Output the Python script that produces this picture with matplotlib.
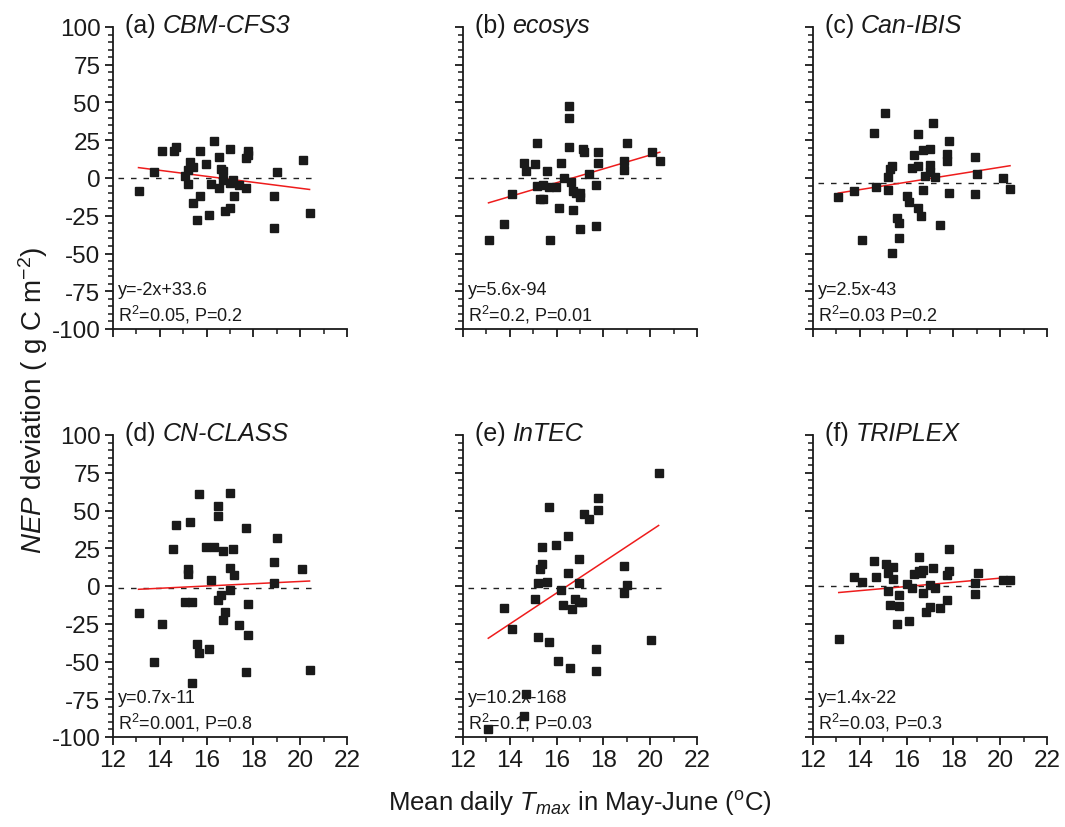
import matplotlib
matplotlib.use('Agg')
import matplotlib.pyplot as plt
from matplotlib.ticker import MultipleLocator

plt.rcParams['font.family'] = ['Liberation Sans', 'DejaVu Sans']
plt.rcParams['mathtext.fontset'] = 'custom'
plt.rcParams['mathtext.rm'] = 'Liberation Sans'
plt.rcParams['mathtext.it'] = 'Liberation Sans:italic'
plt.rcParams['mathtext.bf'] = 'Liberation Sans:bold'
plt.rcParams['axes.unicode_minus'] = False

# ---------------- data ----------------
panel_letters = ['(a)', '(b)', '(c)', '(d)', '(e)', '(f)']
models = ['CBM-CFS3', 'ecosys', 'Can-IBIS', 'CN-CLASS', 'InTEC', 'TRIPLEX']

xa = [13.09, 13.77, 14.09, 14.60, 14.70, 15.09, 15.19, 15.19, 15.31, 15.40, 15.40, 15.59, 15.70, 15.70,
      15.98, 16.11, 16.20, 16.30, 16.51, 16.51, 16.60, 16.71, 16.71, 16.80, 17.01, 17.01, 17.01, 17.11,
      17.19, 17.40, 17.70, 17.70, 17.79, 17.79, 18.89, 18.89, 19.02, 20.11, 20.40]
ya = [-8.7, 3.7, 17.6, 18.0, 20.2, 1.5, 5.6, -3.7, 10.6, 7.6, -16.8, -27.7, 17.6, -12.0,
      9.5, -24.6, -4.2, 24.3, 13.7, -6.8, 5.9, 4.8, -1.1, -21.8, 19.3, -3.3, -19.6, -1.1,
      -11.6, -4.4, 13.5, -6.8, 17.6, 15.0, -12.0, -33.3, 3.7, 11.9, -23.5]

xb = [13.09, 13.74, 14.09, 14.60, 14.68, 15.09, 15.18, 15.18, 15.29, 15.40, 15.40, 15.57, 15.69, 15.70,
      15.99, 16.10, 16.20, 16.30, 16.51, 16.51, 16.51, 16.60, 16.71, 16.71, 16.81, 17.01, 17.01, 17.01,
      17.11, 17.19, 17.40, 17.70, 17.70, 17.79, 17.79, 18.89, 18.89, 19.02, 20.09, 20.41]
yb = [-41.2, -30.4, -10.3, 9.7, 4.9, 9.0, 23.4, -5.3, -14.0, -14.0, -4.9, 4.9, -5.7, -40.8,
      -6.0, -19.7, 10.1, -0.3, 48.0, 39.5, 20.6, -2.9, -8.6, -21.0, -10.1, -10.1, -12.5, -34.0,
      19.3, 17.3, 2.9, -4.9, -31.5, 17.5, 10.1, 11.0, 5.5, 23.2, 17.1, 11.4]

xc = [13.08, 13.77, 14.08, 14.59, 14.68, 15.09, 15.19, 15.19, 15.28, 15.39, 15.39, 15.59, 15.69, 15.69,
      16.00, 16.09, 16.22, 16.30, 16.50, 16.50, 16.50, 16.60, 16.72, 16.72, 16.80, 17.02, 17.02, 17.02,
      17.12, 17.20, 17.41, 17.71, 17.71, 17.80, 17.80, 18.91, 18.91, 19.02, 20.12, 20.42]
yc = [-12.9, -8.3, -41.1, 29.5, -5.7, 43.1, 0.5, -8.1, 5.9, 7.7, -49.6, -26.2, -29.5, -39.6,
      -12.0, -15.9, 6.6, 15.5, 28.9, 8.1, -19.9, -24.9, 18.4, -7.9, 1.6, 19.3, 8.5, 3.7,
      36.7, 0.5, -31.0, 16.2, 11.0, 24.5, -9.8, 13.8, -10.5, 2.9, 0.0, -7.2]

xd = [13.09, 13.74, 14.09, 14.58, 14.68, 15.09, 15.19, 15.19, 15.28, 15.37, 15.37, 15.59, 15.69, 15.69,
      15.99, 16.09, 16.20, 16.30, 16.50, 16.50, 16.50, 16.60, 16.69, 16.69, 16.80, 16.99, 16.99, 16.99,
      17.11, 17.19, 17.39, 17.69, 17.69, 17.79, 17.79, 18.89, 18.89, 19.01, 20.09, 20.40]
yd = [-18.0, -50.0, -25.2, 24.3, 40.1, -10.7, 11.0, 8.2, 42.4, -10.3, -64.5, -38.6, 61.0, -44.5,
      25.5, -41.8, 3.9, 25.9, 53.1, 46.1, -9.2, -5.7, 23.0, -22.4, -17.1, 61.7, 12.1, -2.8,
      24.8, 7.5, -25.9, 38.6, -57.0, -12.0, -32.2, 15.8, 2.0, 31.6, 11.0, -55.9]

xe = [13.08, 13.74, 14.08, 14.60, 14.68, 15.09, 15.19, 15.19, 15.28, 15.39, 15.39, 15.57, 15.69, 15.69,
      15.98, 16.08, 16.19, 16.28, 16.47, 16.47, 16.58, 16.67, 16.79, 16.97, 16.97, 16.97, 17.08, 17.17,
      17.38, 17.68, 17.68, 17.76, 17.76, 18.86, 18.86, 18.99, 20.05, 20.36]
ye = [-94.7, -14.5, -28.3, -86.2, -71.5, -8.8, 1.8, -34.0, 11.0, 14.5, 26.1, 2.4, 52.0, -37.2,
      27.4, -49.8, -2.6, -12.5, 33.4, 8.8, -54.2, -15.1, -8.8, 18.2, 2.0, -10.3, -10.3, 48.0,
      44.7, -41.7, -56.6, 58.6, 50.5, 13.0, -4.8, 0.5, -35.5, 75.0]

xf = [13.10, 13.77, 14.11, 14.62, 14.71, 15.11, 15.21, 15.21, 15.31, 15.41, 15.41, 15.61, 15.69, 15.69,
      16.00, 16.10, 16.22, 16.30, 16.52, 16.52, 16.62, 16.72, 16.72, 16.82, 17.02, 17.02, 17.12, 17.21,
      17.41, 17.73, 17.73, 17.83, 17.83, 18.94, 18.94, 19.04, 20.14, 20.44]
yf = [-35.0, 6.2, 2.9, 16.3, 5.7, 14.5, 8.6, -3.3, -12.3, 12.8, 4.8, -25.1, -5.9, -13.2,
      1.1, -23.1, -1.3, 7.9, 19.0, 9.7, 8.8, 10.4, -4.8, -17.0, 0.7, -13.9, 12.1, -1.5,
      -14.3, 7.3, -9.3, 24.5, 9.7, 2.0, -5.3, 8.8, 4.0, 4.0]

# regression lines as drawn (slope, intercept) and their x-range
fit_slopes = [-1.98, 4.58, 2.47, 0.75, 10.26, 1.38]
fit_intercepts = [32.8, -76.4, -42.3, -12.0, -168.8, -22.4]
fit_x_start = [13.09, 13.09, 13.08, 13.09, 13.08, 13.10]
fit_x_end = [20.40, 20.41, 20.42, 20.40, 20.36, 20.44]

# dashed reference level per panel
ref_levels = [0, 0, -3, -1, -1, 0]

eq_texts = ['y=-2x+33.6', 'y=5.6x-94', 'y=2.5x-43', 'y=0.7x-11', 'y=10.2x-168', 'y=1.4x-22']
stat_texts = ['R$^2$=0.05, P=0.2', 'R$^2$=0.2, P=0.01', 'R$^2$=0.03 P=0.2',
              'R$^2$=0.001, P=0.8', 'R$^2$=0.1, P=0.03', 'R$^2$=0.03, P=0.3']

x_ticks = [12, 14, 16, 18, 20, 22]
y_ticks = [-100, -75, -50, -25, 0, 25, 50, 75, 100]

xs = [xa, xb, xc, xd, xe, xf]
ys = [ya, yb, yc, yd, ye, yf]

# ---------------- figure ----------------
W, H = 1065, 828
fig = plt.figure(figsize=(W / 100, H / 100), dpi=100)

col_left = [113, 463, 813]
row_top = [28, 436]
ax_w, ax_h = 234, 302

tick_fs = 17.5
title_fs = 18
ink = '#1a1a1a'
for i in range(6):
    r, c = divmod(i, 3)
    left = col_left[c] / W
    bottom = 1 - (row_top[r] + ax_h) / H
    ax = fig.add_axes([left, bottom, ax_w / W, ax_h / H])
    ax.set_xlim(12, 22)
    ax.set_ylim(-100, 100)
    for s in ['top', 'right']:
        ax.spines[s].set_visible(False)
    for s in ['left', 'bottom']:
        ax.spines[s].set_linewidth(1.3)
        ax.spines[s].set_color(ink)
    ax.set_xticks(x_ticks)
    ax.set_yticks(y_ticks)
    ax.xaxis.set_minor_locator(MultipleLocator(1))
    ax.yaxis.set_minor_locator(MultipleLocator(5))
    ax.tick_params(which='major', direction='out', length=6, width=1.3, color=ink,
                   labelsize=tick_fs, pad=3, labelcolor=ink)
    ax.tick_params(which='minor', direction='out', length=3.5, width=1.1, color=ink)
    if c != 0:
        ax.tick_params(axis='y', which='both', labelleft=False)
    if r == 0:
        ax.tick_params(axis='x', which='both', labelbottom=False)

    # dashed reference
    ax.plot([12.2, 20.75], [ref_levels[i], ref_levels[i]], ls=(0, (4, 5)), color='#222222', lw=1.0, zorder=1)
    # scatter
    ax.plot(xs[i], ys[i], ls='none', marker='s', ms=5.2, color=ink, mec=ink, zorder=3)
    # regression line
    x0, x1 = fit_x_start[i], fit_x_end[i]
    ax.plot([x0, x1], [fit_slopes[i] * x0 + fit_intercepts[i], fit_slopes[i] * x1 + fit_intercepts[i]],
            color='#ee1c1c', lw=1.1, zorder=2)

    t1 = ax.text(0.05, 0.985, panel_letters[i] + ' ', transform=ax.transAxes, fontsize=title_fs,
                 va='baseline', ha='left', color=ink)
    ax.annotate(models[i], xy=(1, 0), xycoords=t1, fontsize=title_fs, fontstyle='italic',
                va='bottom', ha='left', color=ink)
    ax.text(0.02, 0.117, eq_texts[i], transform=ax.transAxes, fontsize=13, va='baseline', ha='left',
            color=ink)
    ax.text(0.02, 0.027, stat_texts[i], transform=ax.transAxes, fontsize=13, va='baseline', ha='left',
            color=ink)

fig.text(0.031, 0.517, r'$\mathit{NEP}$ deviation ( g C m$^{-2}$)', rotation=90, ha='center', va='center',
         fontsize=20, color=ink)
fig.text(0.545, 0.030, r'Mean daily $\mathit{T}_{\mathit{max}}$ in May-June ($^{\mathrm{o}}$C)', ha='center',
         va='center', fontsize=18.5, color=ink)

fig.savefig('out.png', dpi=100)
